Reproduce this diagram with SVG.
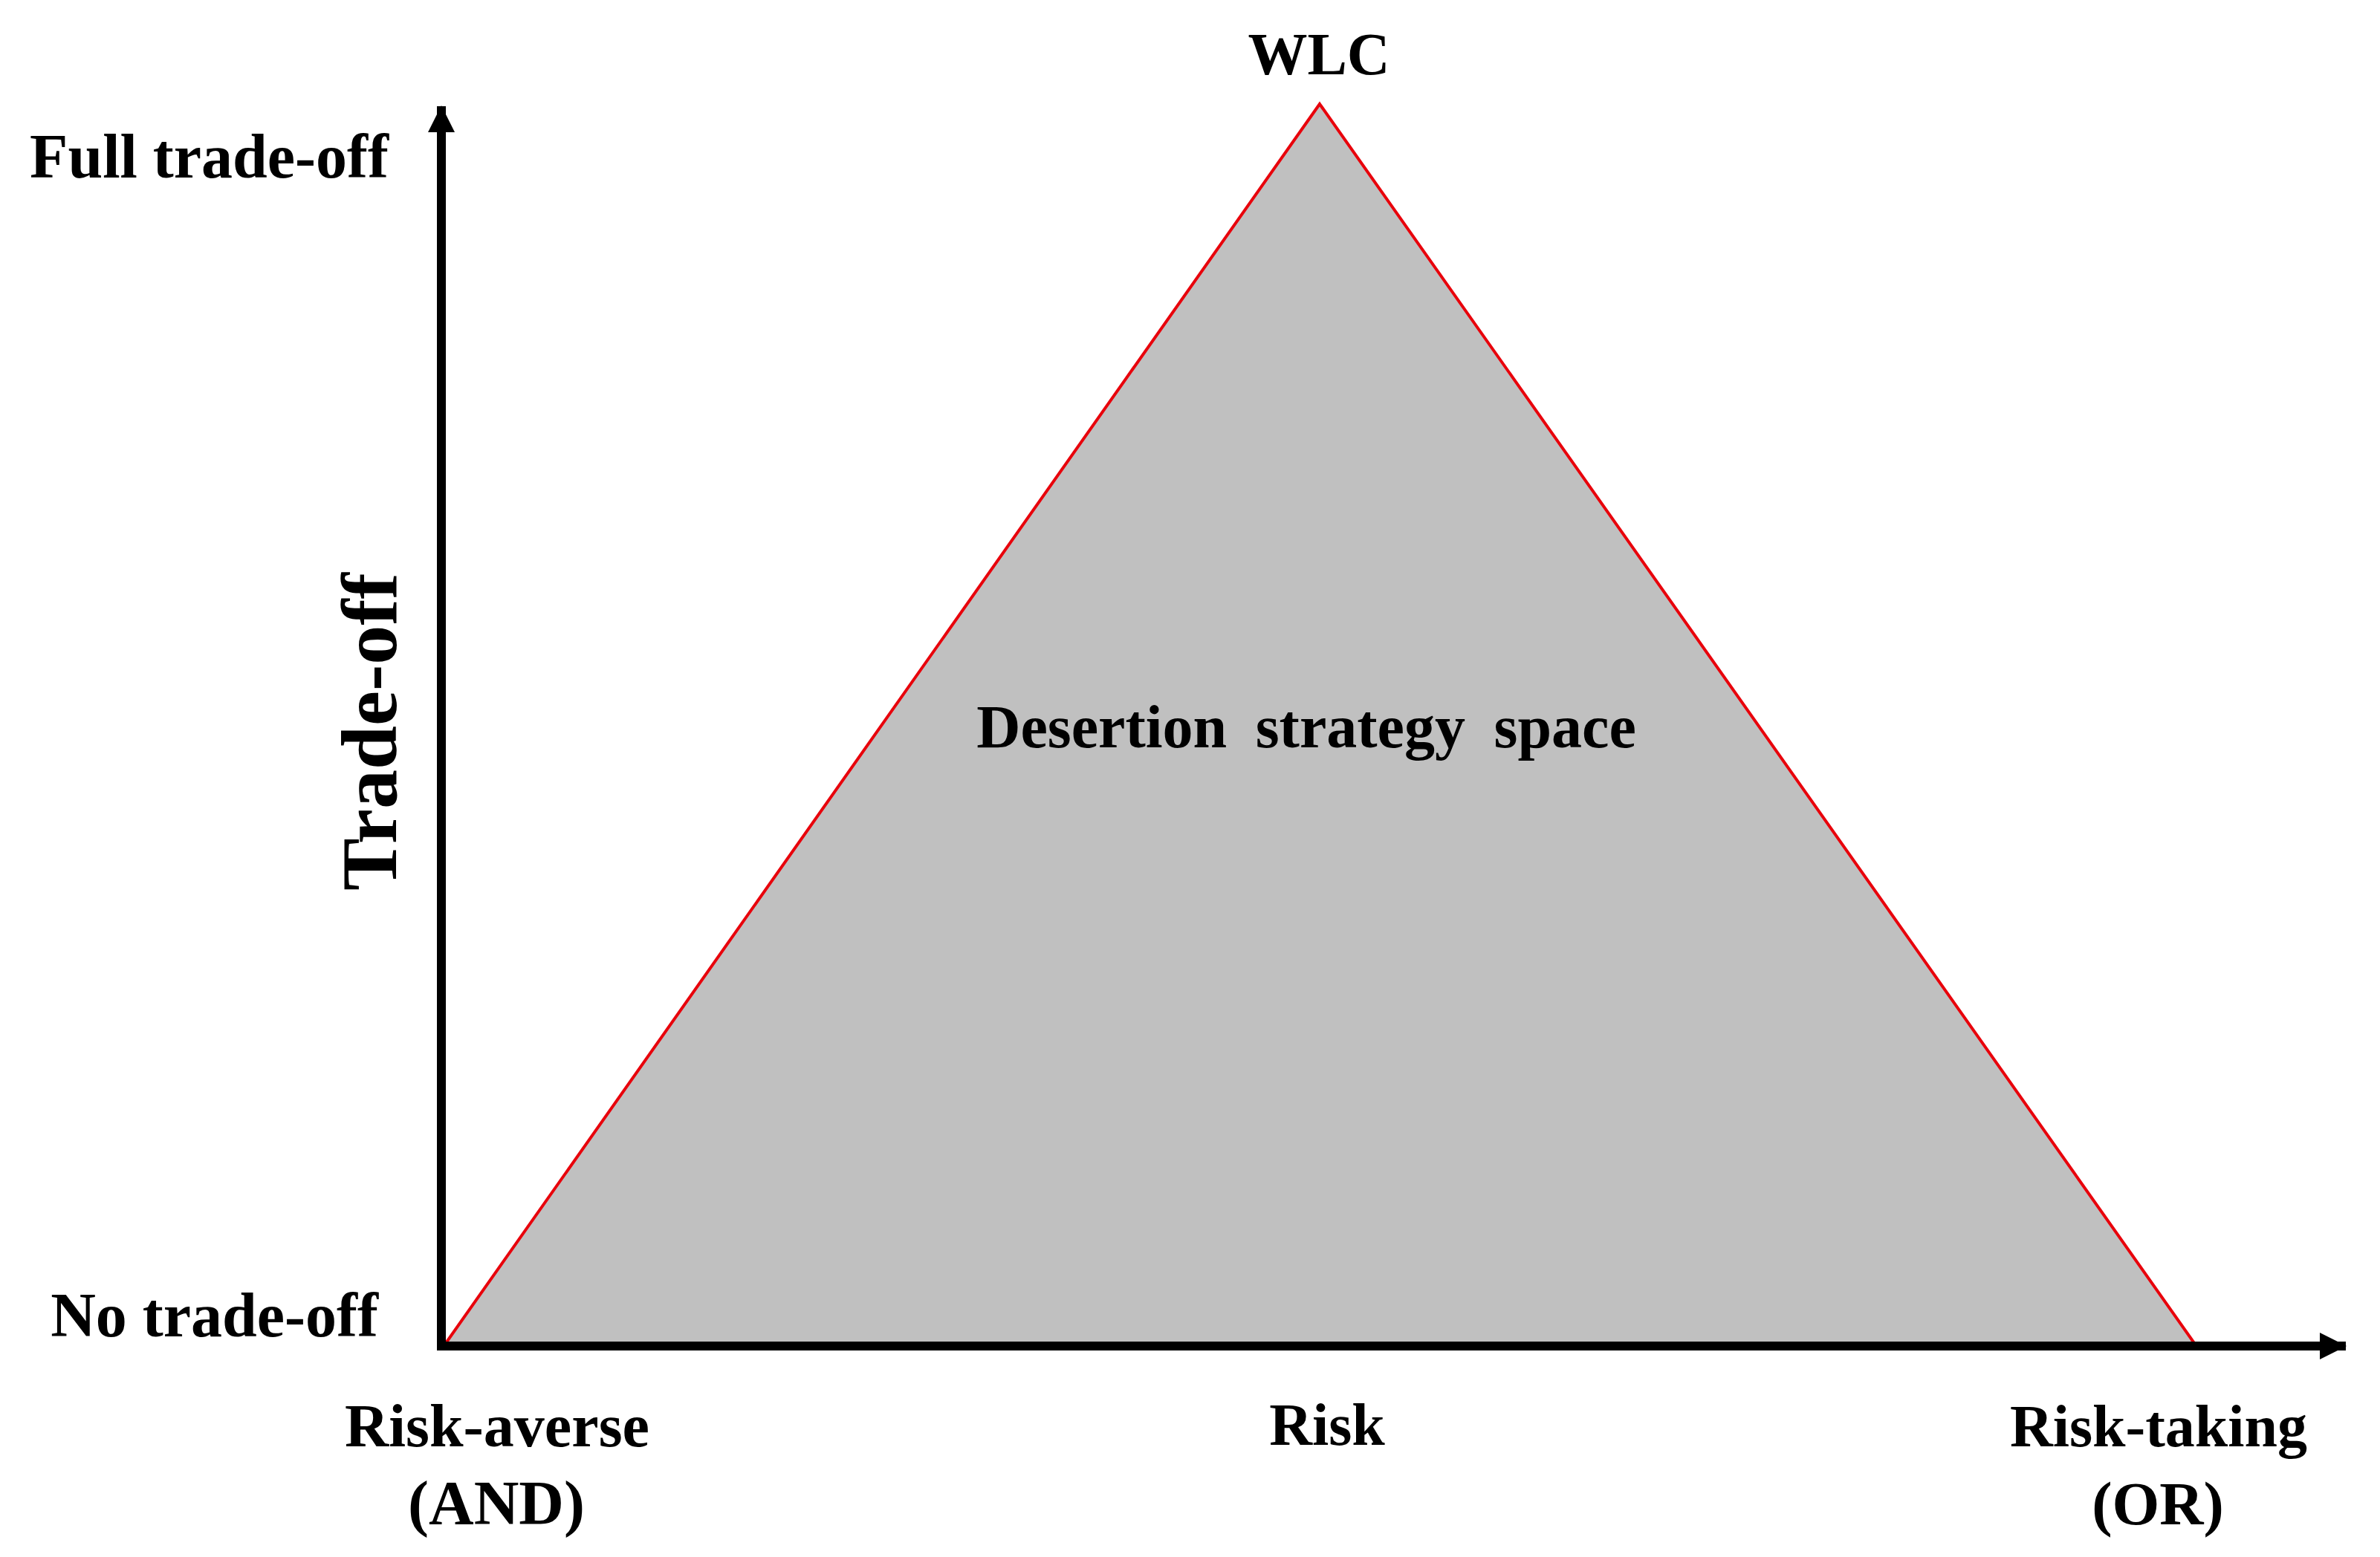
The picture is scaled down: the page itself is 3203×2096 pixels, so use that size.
<svg xmlns="http://www.w3.org/2000/svg" width="3203" height="2096" viewBox="0 0 3203 2096">
<style>
text{font-family:"Liberation Serif","Times New Roman",serif;font-weight:bold;fill:#000}
.lbl{font-size:80px}
.big{font-size:84px}
.axis{stroke:#000;stroke-width:12;fill:none}
</style>
<defs>
<marker id="ah" viewBox="0 0 36 36" refX="35" refY="18" markerWidth="36" markerHeight="36" markerUnits="userSpaceOnUse" orient="auto">
<path d="M0,0 L36,18 L0,36 Z" fill="#000"/>
</marker>
</defs>
<rect width="3203" height="2096" fill="#fff"/>
<g id="strategy-space">
<polygon points="1776,140 600,1808 2953,1808" fill="#c0c0c0" stroke="#e8000b" stroke-width="4" stroke-linejoin="miter"/>
<text x="1758" y="1006" font-size="82" text-anchor="middle" word-spacing="18">Desertion strategy space</text>
</g>
<g id="connectors">
<line class="axis" x1="594" y1="1818" x2="594" y2="143" marker-end="url(#ah)"/>
<line class="axis" x1="588" y1="1812" x2="3157" y2="1812" marker-end="url(#ah)"/>
</g>
<g id="wlc"><text class="lbl" x="1775" y="100" text-anchor="middle">WLC</text></g>
<g id="full-tradeoff"><text class="big" x="523" y="239" text-anchor="end">Full trade-off</text></g>
<g id="no-tradeoff"><text class="big" x="509" y="1799" text-anchor="end">No trade-off</text></g>
<g id="y-title"><text x="533" y="985" font-size="106" text-anchor="middle" transform="rotate(-90 533 985)">Trade-off</text></g>
<g id="risk-averse"><text x="669" y="1947" font-size="82" text-anchor="middle">Risk-averse</text><text class="big" x="668" y="2052" text-anchor="middle">(AND)</text></g>
<g id="risk"><text class="lbl" x="1786" y="1945" text-anchor="middle">Risk</text></g>
<g id="risk-taking"><text class="lbl" x="2905" y="1947" text-anchor="middle">Risk-taking</text><text x="2904" y="2052" font-size="82" text-anchor="middle">(OR)</text></g>
</svg>
